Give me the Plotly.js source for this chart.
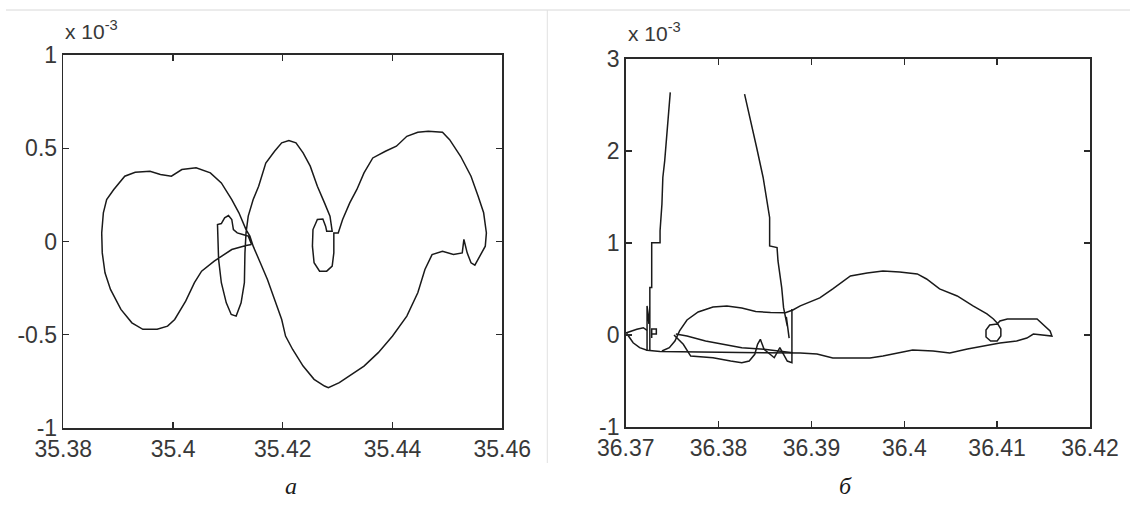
<!DOCTYPE html>
<html><head><meta charset="utf-8">
<script src="https://cdn.plot.ly/plotly-3.0.1.min.js"></script>
<style>html,body{margin:0;padding:0;background:#fff;}#chart{width:1130px;height:505px;}</style>
</head><body><div id="chart"></div>
<script>
// ---------- Panel а (values of y in units of 1e-3) ----------
const aLoopLeftX = [35.4143,35.4133,35.4107,35.4075,35.4052,35.4039,35.4023,35.4003,35.3990,35.3971,35.3945,35.3925,35.3905,35.3886,35.3876,35.3871,35.3870,35.3873,35.3879,35.3892,35.3912,35.3931,35.3958,35.3977,35.3997,35.4016,35.4042,35.4068,35.4088,35.4107,35.4120,35.4133,35.4140,35.4146];
const aLoopLeftY = [-0.016,-0.021,-0.043,-0.105,-0.159,-0.221,-0.320,-0.418,-0.454,-0.471,-0.471,-0.436,-0.364,-0.257,-0.168,-0.061,0.046,0.154,0.225,0.279,0.350,0.371,0.377,0.359,0.350,0.386,0.395,0.368,0.314,0.225,0.154,0.064,0.029,-0.025];
const aLoopRightX = [35.4159,35.4172,35.4185,35.4198,35.4205,35.4218,35.4237,35.4257,35.4276,35.4283,35.4303,35.4322,35.4348,35.4374,35.4400,35.4426,35.4446,35.4459,35.4472,35.4491,35.4511,35.4527,35.4530,35.4536,35.4543,35.4550,35.4560,35.4569,35.4571,35.4566,35.4556,35.4543,35.4524,35.4504,35.4491,35.4465,35.4446,35.4426,35.4407,35.4387,35.4364,35.4348,35.4335,35.4322,35.4309,35.4301];
const aLoopRightY = [-0.114,-0.204,-0.311,-0.418,-0.507,-0.579,-0.668,-0.739,-0.775,-0.784,-0.757,-0.721,-0.668,-0.596,-0.507,-0.400,-0.275,-0.150,-0.070,-0.052,-0.070,-0.061,0.011,-0.061,-0.114,-0.127,-0.070,-0.025,0.046,0.154,0.243,0.350,0.457,0.546,0.586,0.591,0.586,0.564,0.511,0.484,0.448,0.368,0.279,0.207,0.118,0.046];
const aSmallLoopX = [35.4293,35.4293,35.4290,35.4280,35.4267,35.4257,35.4254,35.4255,35.4263,35.4273,35.4278,35.4280,35.4290];
const aSmallLoopY = [0.046,-0.061,-0.132,-0.159,-0.159,-0.114,-0.025,0.064,0.118,0.121,0.082,0.055,0.055];
const aMiddleX = [35.4286,35.4276,35.4263,35.4250,35.4237,35.4224,35.4211,35.4198,35.4185,35.4169,35.4156,35.4146,35.4137,35.4133,35.4131,35.4130,35.4124,35.4115,35.4106,35.4097,35.4088,35.4083,35.4081,35.4088,35.4094,35.4101,35.4107,35.4110,35.4117,35.4127,35.4137,35.4143];
const aMiddleY = [0.136,0.207,0.296,0.404,0.475,0.529,0.541,0.529,0.484,0.421,0.296,0.225,0.136,0.046,-0.061,-0.221,-0.329,-0.400,-0.391,-0.329,-0.221,-0.096,0.091,0.096,0.127,0.139,0.118,0.064,0.046,0.038,0.029,-0.016];
const aXTicks = [35.38,35.40,35.42,35.44,35.46];
const aXTickText = ['35.38','35.4','35.42','35.44','35.46'];
const aYTicks = [-1,-0.5,0,0.5,1];
const aYTickText = ['-1','-0.5','0','0.5','1'];

// ---------- Panel б (values of y in units of 1e-3) ----------
const bBlobX = [36.3723,36.3719,36.3712,36.3701,36.3703,36.3708,36.3715,36.3723,36.3737,36.3758,36.3780,36.3802,36.3823,36.3845,36.3866,36.3888,36.3906,36.3923,36.3942,36.3963,36.3977,36.3995,36.4009,36.4031,36.4049,36.4068,36.4085,36.4103,36.4121,36.4132,36.4139,36.4154,36.4159,36.4157,36.4146,36.4143,36.4111,36.4103,36.4100,36.4092,36.4088,36.4088,36.4093,36.4100,36.4104,36.4104,36.4100,36.4096,36.4089,36.4074,36.4057,36.4038,36.4024,36.4014,36.3995,36.3977,36.3960,36.3942,36.3923,36.3909,36.3888,36.3880,36.3872,36.3856,36.3840,36.3825,36.3809,36.3794,36.3778,36.3766,36.3758,36.3753,36.3747,36.3739];
const bBlobY = [0.051,0.079,0.062,0.025,-0.011,-0.084,-0.138,-0.166,-0.180,-0.185,-0.185,-0.188,-0.190,-0.193,-0.193,-0.196,-0.207,-0.250,-0.250,-0.250,-0.229,-0.196,-0.163,-0.174,-0.196,-0.152,-0.120,-0.087,-0.065,-0.033,0.011,-0.011,-0.011,0.044,0.152,0.174,0.174,0.152,0.120,0.109,0.054,-0.022,-0.065,-0.065,-0.011,0.065,0.131,0.174,0.229,0.316,0.424,0.501,0.609,0.664,0.686,0.696,0.675,0.642,0.501,0.403,0.316,0.272,0.243,0.245,0.256,0.294,0.316,0.305,0.250,0.163,0.044,-0.065,-0.138,-0.174];
const bUpperX = [36.3754,36.3766,36.3786,36.3805,36.3825,36.3849,36.3864,36.3880];
const bUpperY = [0.011,-0.011,-0.065,-0.101,-0.138,-0.156,-0.174,-0.193];
const bLowerX = [36.3752,36.3762,36.3770,36.3794,36.3813,36.3825,36.3833,36.3839,36.3842,36.3845,36.3849,36.3854,36.3860,36.3864,36.3866,36.3870,36.3874,36.3879,36.3879];
const bLowerY = [0.000,-0.101,-0.229,-0.247,-0.283,-0.301,-0.283,-0.210,-0.101,-0.047,-0.156,-0.193,-0.247,-0.174,-0.138,-0.210,-0.283,-0.301,0.283];
const bSpikeLeftX = [36.3723,36.3723,36.3725,36.3726,36.3726,36.3726,36.3728,36.3728,36.3737,36.3737,36.3739,36.3740,36.3742,36.3744,36.3746,36.3748];
const bSpikeLeftY = [-0.174,0.316,0.120,0.316,-0.174,0.515,0.515,1.004,1.004,1.132,1.422,1.712,1.893,2.165,2.402,2.637];
const bSpikeRightX = [36.3828,36.3834,36.3841,36.3848,36.3855,36.3855,36.3863,36.3864,36.3868,36.3870,36.3872,36.3874,36.3873,36.3875,36.3876];
const bSpikeRightY = [2.619,2.361,2.038,1.712,1.276,0.968,0.950,0.805,0.515,0.297,0.188,0.098,0.196,0.044,-0.033];
const bHookX = [36.3728,36.3728,36.3733,36.3733,36.3728];
const bHookY = [-0.033,0.065,0.065,0.011,0.011];
const bXTicks = [36.37,36.38,36.39,36.40,36.41,36.42];
const bXTickText = ['36.37','36.38','36.39','36.4','36.41','36.42'];
const bYTicks = [-1,0,1,2,3];
const bYTickText = ['-1','0','1','2','3'];

const lineStyle = {color:'#1a1a1a', width:1.5};
function tr(x, y, xa, ya){ return {x:x, y:y, xaxis:xa, yaxis:ya, type:'scatter', mode:'lines', line:lineStyle, hoverinfo:'skip'}; }

const aX = aLoopLeftX.concat(aLoopRightX, aSmallLoopX, aMiddleX);
const aY = aLoopLeftY.concat(aLoopRightY, aSmallLoopY, aMiddleY);

const data = [
  tr(aX, aY, 'x', 'y'),
  tr(bBlobX, bBlobY, 'x2', 'y2'),
  tr(bUpperX, bUpperY, 'x2', 'y2'),
  tr(bLowerX, bLowerY, 'x2', 'y2'),
  tr(bSpikeLeftX, bSpikeLeftY, 'x2', 'y2'),
  tr(bSpikeRightX, bSpikeRightY, 'x2', 'y2'),
  tr(bHookX, bHookY, 'x2', 'y2')
];

const tickFont = {family:'"Liberation Sans", Arial, sans-serif', size:23, color:'#383838'};
const axisCommon = {showline:true, mirror:'allticks', linecolor:'#2a2a2a', linewidth:1.6,
  ticks:'inside', ticklen:6, tickwidth:1.3, tickcolor:'#2a2a2a', showgrid:false, zeroline:false,
  tickfont:tickFont, tickmode:'array', fixedrange:true};

const W = 1130, H = 505;
const layout = {
  width:W, height:H, margin:{l:0,r:0,t:0,b:0}, paper_bgcolor:'#fff', plot_bgcolor:'#fff', showlegend:false,
  xaxis: Object.assign({}, axisCommon, {domain:[63.3/W, 502.3/W], range:[35.38,35.46], tickvals:aXTicks, ticktext:aXTickText, anchor:'y'}),
  yaxis: Object.assign({}, axisCommon, {domain:[1-428/H, 1-55/H], range:[-1,1], tickvals:aYTicks, ticktext:aYTickText, anchor:'x'}),
  xaxis2: Object.assign({}, axisCommon, {domain:[625.7/W, 1090/W], range:[36.37,36.42], tickvals:bXTicks, ticktext:bXTickText, anchor:'y2'}),
  yaxis2: Object.assign({}, axisCommon, {domain:[1-427/H, 1-59/H], range:[-1,3], tickvals:bYTicks, ticktext:bYTickText, anchor:'x2'}),
  shapes: [
    {type:'line', xref:'paper', yref:'paper', x0:6/W, x1:1, y0:1-10/H, y1:1-10/H, line:{color:'#d8d8d8', width:1}},
    {type:'line', xref:'paper', yref:'paper', x0:547.3/W, x1:547.3/W, y0:1-10/H, y1:1-463/H, line:{color:'#e2e2e2', width:1}}
  ],
  annotations: [
    {xref:'paper', yref:'paper', x:63/W, y:1-45/H, xanchor:'left', yanchor:'bottom', showarrow:false,
     text:'x 10<sup>-3</sup>', font:{family:'"Liberation Sans", Arial, sans-serif', size:21, color:'#383838'}},
    {xref:'paper', yref:'paper', x:626/W, y:1-47/H, xanchor:'left', yanchor:'bottom', showarrow:false,
     text:'x 10<sup>-3</sup>', font:{family:'"Liberation Sans", Arial, sans-serif', size:21, color:'#383838'}},
    {xref:'paper', yref:'paper', x:291/W, y:1-486/H, xanchor:'center', yanchor:'middle', showarrow:false,
     text:'<i>а</i>', font:{family:'"Liberation Serif", "Times New Roman", serif', size:24, color:'#1a1a1a'}},
    {xref:'paper', yref:'paper', x:845/W, y:1-486/H, xanchor:'center', yanchor:'middle', showarrow:false,
     text:'<i>б</i>', font:{family:'"Liberation Serif", "Times New Roman", serif', size:24, color:'#1a1a1a'}}
  ]
};

Plotly.newPlot('chart', data, layout, {staticPlot:true, displayModeBar:false});
</script></body></html>
